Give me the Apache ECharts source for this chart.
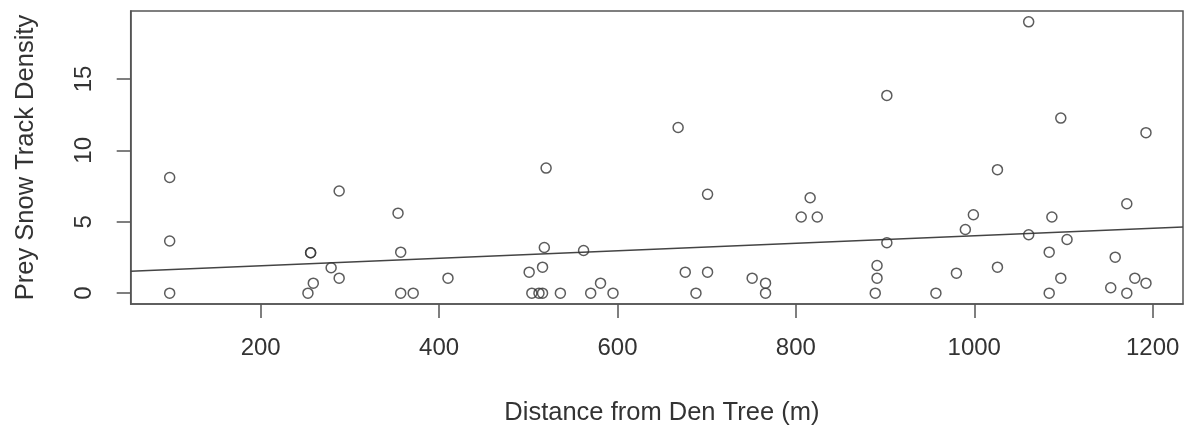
<!DOCTYPE html>
<html>
<head>
<meta charset="utf-8">
<script src="https://cdn.jsdelivr.net/npm/echarts@6/dist/echarts.min.js"></script>
<style>
html,body{margin:0;padding:0;background:#fff;}
#chart{width:1186px;height:431px;}
</style>
</head>
<body>
<div id="chart"></div>
<script>
// Distance from den tree (m)
const distance = [98, 98, 98, 256, 256, 259, 253, 279, 288, 288,
  354, 357, 357, 371, 410, 520, 518, 501, 516, 504,
  512, 516, 536, 562, 570, 581, 595, 668, 676, 688,
  701, 701, 751, 766, 766, 816, 806, 824, 1061, 902,
  1097, 1192.5, 1026, 1171, 999, 1087, 990, 1061, 902, 1104,
  1084, 1158, 891, 891, 889, 980, 1026, 1097, 957, 1084,
  1153, 1171, 1180, 1192.5];
// Prey snow track density
const density = [8.1, 3.65, 0, 2.83, 2.83, 0.7, 0, 1.78, 7.15, 1.05,
  5.6, 2.87, 0, 0, 1.05, 8.76, 3.2, 1.47, 1.82, 0,
  0, 0, 0, 2.99, 0, 0.7, 0, 11.6, 1.47, 0,
  6.92, 1.47, 1.05, 0.7, 0, 6.68, 5.33, 5.33, 19.0, 13.85,
  12.26, 11.24, 8.65, 6.26, 5.49, 5.33, 4.46, 4.09, 3.53, 3.76,
  2.87, 2.52, 1.94, 1.05, 0, 1.4, 1.82, 1.05, 0, 0,
  0.38, 0, 1.05, 0.7];
const xTicks = [200, 400, 600, 800, 1000, 1200];
const yTicks = [0, 5, 10, 15];
// fitted regression line coefficients
const intercept = 1.40;
const slope = 0.00262;

const xMin = 54.3, xMax = 1234;
const yMin = -0.76, yMax = 19.76;

const points = distance.map((d, i) => [d, density[i]]);
const fitLine = [[xMin, intercept + slope * xMin], [xMax, intercept + slope * xMax]];

const txt = '#333';
const font = '"Liberation Sans", Arial, sans-serif';
const chart = echarts.init(document.getElementById('chart'));
chart.setOption({
  backgroundColor: '#ffffff',
  animation: false,
  grid: { left: 130.7, right: 3, top: 11, bottom: 127, show: true, borderColor: '#555', borderWidth: 1.5, backgroundColor: 'transparent' },
  xAxis: {
    type: 'value', min: xMin, max: xMax,
    name: 'Distance from Den Tree (m)', nameLocation: 'middle', nameGap: 96,
    nameTextStyle: { color: txt, fontSize: 25.5, fontFamily: font, padding: [0, 0, 0, 10] },
    axisLine: { show: true, onZero: false, lineStyle: { color: '#555', width: 1.5 } },
    axisTick: { show: true, inside: false, length: 14, customValues: xTicks, lineStyle: { color: '#555', width: 1.5 } },
    axisLabel: { color: txt, fontSize: 24, fontFamily: font, margin: 32, customValues: xTicks, formatter: v => String(v) },
    splitLine: { show: false }
  },
  yAxis: {
    type: 'value', min: yMin, max: yMax,
    name: 'Prey Snow Track Density', nameLocation: 'middle', nameGap: 92,
    nameTextStyle: { color: txt, fontSize: 25.5, fontFamily: font },
    axisLine: { show: true, onZero: false, lineStyle: { color: '#555', width: 1.5 } },
    axisTick: { show: true, inside: false, length: 14, customValues: yTicks, lineStyle: { color: '#555', width: 1.5 } },
    axisLabel: { color: txt, fontSize: 24, fontFamily: font, margin: 34, rotate: 90, customValues: yTicks, formatter: v => String(v) },
    splitLine: { show: false }
  },
  series: [
    {
      type: 'scatter', data: points, symbol: 'circle', symbolSize: 10,
      itemStyle: { color: 'rgba(0,0,0,0)', borderColor: '#333', borderWidth: 1.5 },
      emphasis: { disabled: true }, z: 3
    },
    {
      type: 'line', data: fitLine, symbol: 'none', clip: true,
      lineStyle: { color: '#444', width: 1.5 }, z: 2
    }
  ]
});
</script>
</body>
</html>
